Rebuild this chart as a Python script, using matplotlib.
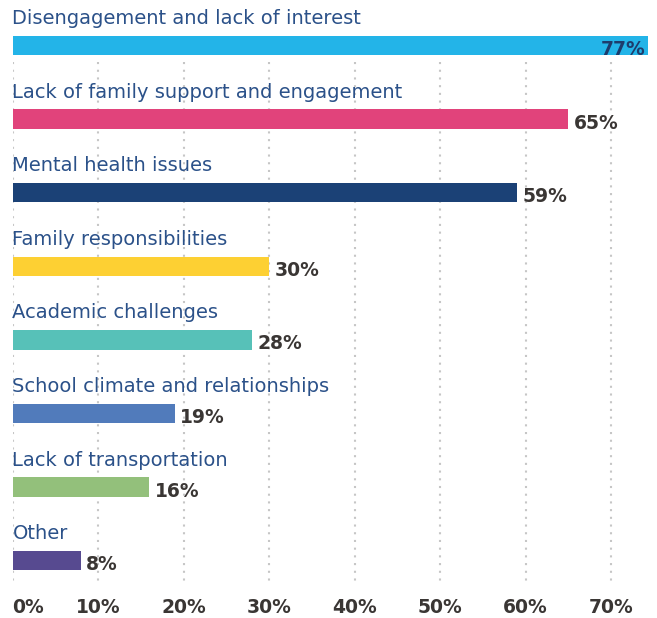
import matplotlib.pyplot as plt
import numpy as np

# reasons, top to bottom
categories = ["Disengagement and lack of interest",
              "Lack of family support and engagement",
              "Mental health issues",
              "Family responsibilities",
              "Academic challenges",
              "School climate and relationships",
              "Lack of transportation",
              "Other"]
values = [77, 65, 59, 30, 28, 19, 16, 8]
colors = ["#23b4e8", "#e1437b", "#1b4176", "#fdd033",
          "#57c1b8", "#517bbb", "#93c07b", "#574a90"]
xticks = [0, 10, 20, 30, 40, 50, 60, 70]

label_col = "#2b5189"
value_col = "#3a3634"

fig = plt.figure(figsize=(6.57, 6.18), dpi=100)
# axes placed in pixel terms: 0% at x=12.5, right edge 648, top 0, bottom 590
W, H = 657, 618
ax = fig.add_axes([12.5 / W, (H - 590) / H, (648 - 12.5) / W, 590 / H])

step = 73.6
y0 = 45.5  # centre of first bar in px
ax.set_xlim(0, 74.3)
ax.set_ylim((590 - y0) / step, -y0 / step)

y = np.arange(len(categories))

# dotted gridlines, starting just below the first bar
ax.vlines(xticks, (62 - y0) / step, (584 - y0) / step, colors="#c6c6c6",
          linestyles=(0, (1, 2.7)), linewidth=1.5, zorder=0)

ax.barh(y, values, height=19.5 / step, color=colors, zorder=2)

for i, (cat, v) in enumerate(zip(categories, values)):
    ax.text(0, i - 21.5 / step, cat, fontsize=14, color=label_col,
            family="DejaVu Sans", va="baseline", ha="left", zorder=3)
    if v > 74:
        ax.text(74.3 - 0.3, i + 9.5 / step, f"{v}%", fontsize=13.5, fontweight="bold",
                color="#1d3c6c", family="DejaVu Sans", va="baseline", ha="right", zorder=3)
    else:
        ax.text(v + 0.6, i + 9.5 / step, f"{v}%", fontsize=13.5, fontweight="bold",
                color=value_col, family="DejaVu Sans", va="baseline", ha="left", zorder=3)

ax.set_xticks(xticks)
ax.set_xticklabels([f"{t}%" for t in xticks], fontsize=13.5, fontweight="bold",
                   color=value_col, family="DejaVu Sans")
ax.get_xticklabels()[0].set_ha("left")
ax.tick_params(axis="x", length=0, pad=6)
ax.set_yticks([])
for s in ax.spines.values():
    s.set_visible(False)

fig.savefig("out.png", dpi=100)
